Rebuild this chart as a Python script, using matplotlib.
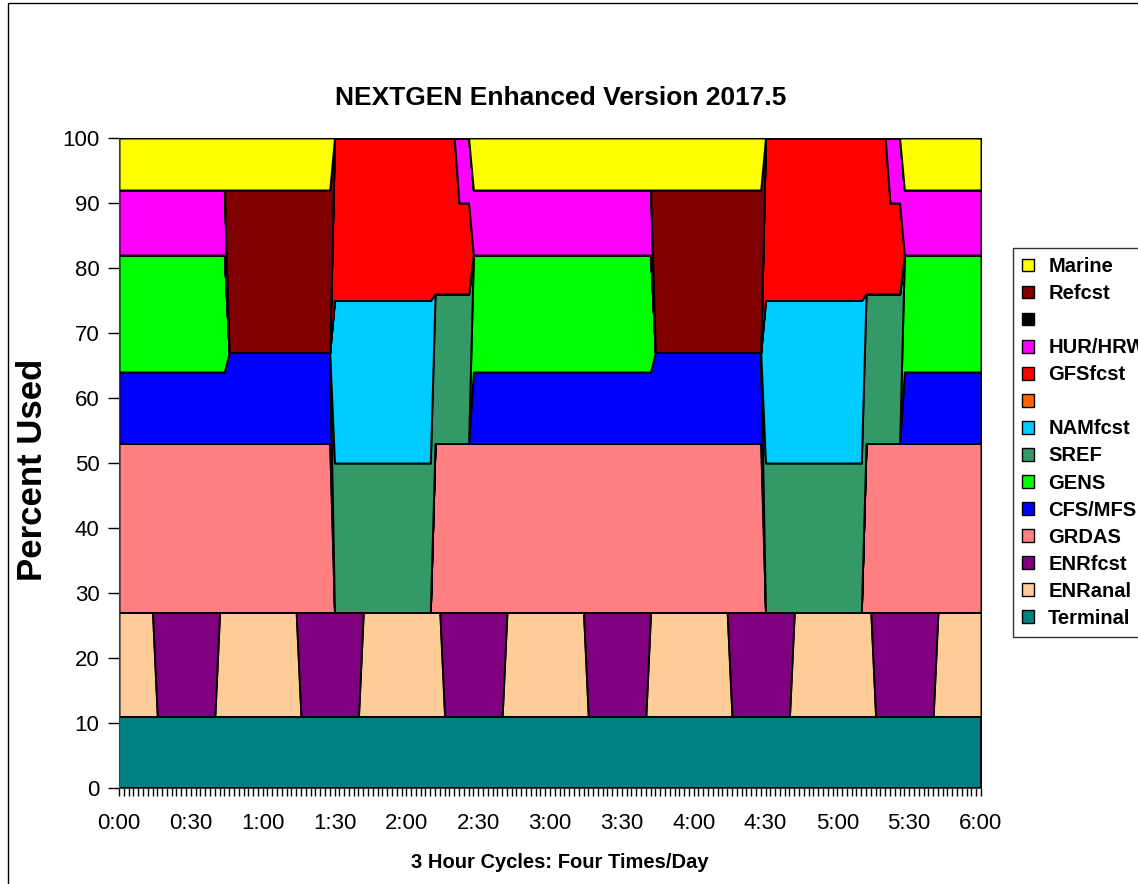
import numpy as np
import matplotlib
matplotlib.use('Agg')
import matplotlib.pyplot as plt
from matplotlib.patches import Patch, Rectangle

plt.rcParams['font.family'] = ['Liberation Sans', 'DejaVu Sans']

# category axis: one point every 2 minutes over two 3-hour cycles
minutes = np.arange(0, 361, 2)
tick_minutes = list(range(0, 361, 30))
tick_labels = ['0:00', '0:30', '1:00', '1:30', '2:00', '2:30', '3:00',
               '3:30', '4:00', '4:30', '5:00', '5:30', '6:00']

# each series as runs: (first minute of run, percent used)
terminal = [(0, 11)]
enranal = [(0, 16), (16, 0), (42, 16), (76, 0), (102, 16), (136, 0), (162, 16),
           (196, 0), (222, 16), (256, 0), (282, 16), (316, 0), (342, 16)]
enrfcst = [(0, 0), (16, 16), (42, 0), (76, 16), (102, 0), (136, 16), (162, 0),
           (196, 16), (222, 0), (256, 16), (282, 0), (316, 16), (342, 0)]
grdas = [(0, 26), (90, 0), (132, 26), (270, 0), (312, 26)]
cfs_mfs = [(0, 11), (46, 14), (90, 0), (148, 11), (224, 14), (270, 0), (328, 11)]
gens = [(0, 18), (46, 0), (148, 18), (224, 0), (328, 18)]
sref = [(0, 0), (90, 23), (148, 0), (270, 23), (328, 0)]
namfcst = [(0, 0), (90, 25), (132, 0), (270, 25), (312, 0)]
unnamed_orange = [(0, 0)]
gfsfcst = [(0, 0), (90, 25), (132, 24), (142, 14), (148, 0),
           (270, 25), (312, 24), (322, 14), (328, 0)]
hur_hrw = [(0, 10), (46, 0), (142, 10), (224, 0), (322, 10)]
unnamed_black = [(0, 0)]
refcst = [(0, 0), (46, 25), (90, 0), (224, 25), (270, 0)]
marine = [(0, 8), (90, 0), (148, 8), (270, 0), (328, 8)]

series = [
    ('Terminal', terminal, '#008080'),
    ('ENRanal', enranal, '#FFCC99'),
    ('ENRfcst', enrfcst, '#800080'),
    ('GRDAS', grdas, '#FF8080'),
    ('CFS/MFS', cfs_mfs, '#0000FF'),
    ('GENS', gens, '#00FF00'),
    ('SREF', sref, '#339966'),
    ('NAMfcst', namfcst, '#00CCFF'),
    (' ', unnamed_orange, '#FF6600'),
    ('GFSfcst', gfsfcst, '#FF0000'),
    ('HUR/HRW', hur_hrw, '#FF00FF'),
    (' ', unnamed_black, '#000000'),
    ('Refcst', refcst, '#800000'),
    ('Marine', marine, '#FFFF00'),
]


def expand_runs(runs, x):
    # hold each run value until the next run starts
    vals = np.zeros(len(x))
    for start, v in runs:
        vals[x >= start] = v
    return vals


W, H = 1138, 884
fig = plt.figure(figsize=(W / 100, H / 100), dpi=100)
ax = fig.add_axes([119 / W, 1 - 788 / H, 862 / W, 650 / H])

ys = [expand_runs(r, minutes) for _, r, _ in series]
cols = [c for _, _, c in series]
ax.stackplot(minutes, *ys, colors=cols, edgecolor='black', linewidth=1.4)

ax.set_xlim(0, 360)
ax.set_ylim(0, 100)
ax.set_yticks(range(0, 101, 10))
ax.set_xticks(tick_minutes)
ax.set_xticklabels(tick_labels)
ax.set_xticks(minutes, minor=True)
ax.tick_params(axis='y', direction='out', length=8, width=1, labelsize=16, pad=6)
ax.tick_params(axis='x', which='both', direction='out', length=6, width=1,
               labelsize=16, pad=12)
for s in ['top', 'right']:
    ax.spines[s].set_visible(False)
for s in ['left', 'bottom']:
    ax.spines[s].set_color('#404040')

fig.text(561 / W, 1 - 98 / H, 'NEXTGEN Enhanced Version 2017.5',
         ha='center', va='center', fontsize=19, fontweight='bold')
fig.text(560 / W, 1 - 863 / H, '3 Hour Cycles: Four Times/Day',
         ha='center', va='center', fontsize=14.5, fontweight='bold')
fig.text(33 / W, 1 - 470 / H, 'Percent Used', rotation=90,
         ha='center', va='center', fontsize=25, fontweight='bold')

handles = [Patch(facecolor=c, edgecolor='black', linewidth=1) for _, _, c in series][::-1]
labels = [n for n, _, _ in series][::-1]
leg = fig.legend(handles, labels, loc='upper left',
                 bbox_to_anchor=(1013 / W, 1 - 248 / H), borderaxespad=0,
                 frameon=True, fancybox=False, edgecolor='black',
                 prop={'weight': 'bold', 'size': 14.5},
                 handlelength=0.6, handleheight=0.6, handletextpad=0.7,
                 labelspacing=0.4, borderpad=0.45)
leg.get_frame().set_linewidth(1)

# chart area border
fig.patches.append(Rectangle((8 / W, -0.1), 1.2, 1.1 - 3 / H, transform=fig.transFigure,
                             fill=False, edgecolor='black', linewidth=1))

fig.savefig('out.png', dpi=100)
